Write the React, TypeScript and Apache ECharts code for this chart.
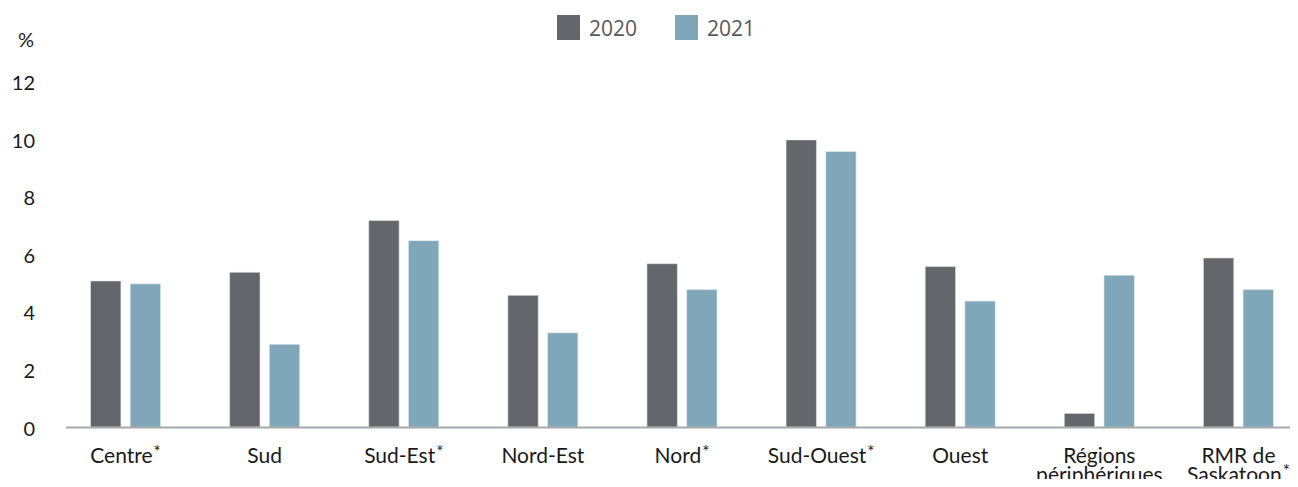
import React, { useEffect, useRef } from "react";
import * as echarts from "echarts";

const categories = [
  "Centre*",
  "Sud",
  "Sud-Est*",
  "Nord-Est",
  "Nord*",
  "Sud-Ouest*",
  "Ouest",
  "Régions\npériphériques",
  "RMR de\nSaskatoon*",
];
const values2020 = [5.1, 5.4, 7.2, 4.6, 5.7, 10.0, 5.6, 0.5, 5.9];
const values2021 = [5.0, 2.9, 6.5, 3.3, 4.8, 9.6, 4.4, 5.3, 4.8];
const yTicks = { min: 0, max: 12, interval: 2 };

export default function App() {
  const ref = useRef<HTMLDivElement>(null);
  useEffect(() => {
    if (!ref.current) return;
    const chart = echarts.init(ref.current, null, { renderer: "svg" });
    const axisFont = "Lato, 'Open Sans', sans-serif";
    chart.setOption({
      animation: false,
      backgroundColor: "#ffffff",
      legend: {
        left: 557,
        top: 15,
        padding: 0,
        itemWidth: 23,
        itemHeight: 25,
        itemGap: 38,
        icon: "rect",
        itemStyle: { borderWidth: 0 },
        textStyle: {
          fontFamily: "'Open Sans', sans-serif",
          fontSize: 21,
          color: "#595959",
          padding: [0, 0, 0, 4],
        },
        data: ["2020", "2021"],
      },
      grid: {
        left: 56,
        width: 1252,
        top: 82,
        bottom: 59.5,
        containLabel: false,
        outerBoundsMode: "none",
      },
      xAxis: {
        type: "category",
        data: categories,
        axisLine: { show: false },
        axisTick: { show: false },
        axisLabel: {
          interval: 0,
          margin: 17,
          fontFamily: axisFont,
          fontSize: 21,
          color: "#1a1a1a",
          lineHeight: 19,
          formatter: (v: string) =>
            v.endsWith("*") ? v.slice(0, -1) + "{s|*}" : v,
          rich: {
            s: {
              fontFamily: axisFont,
              fontSize: 17,
              color: "#1a1a1a",
              lineHeight: 19,
              padding: [0, 0, 5, 1],
            },
          },
        },
      },
      yAxis: {
        type: "value",
        min: yTicks.min,
        max: yTicks.max,
        interval: yTicks.interval,
        name: "%",
        nameLocation: "end",
        nameGap: 33,
        nameTextStyle: {
          fontFamily: axisFont,
          fontSize: 20,
          color: "#1a1a1a",
          align: "right",
          padding: [0, 22, 0, 0],
        },
        axisLine: { show: false },
        axisTick: { show: false },
        splitLine: { show: false },
        axisLabel: {
          margin: 21,
          fontFamily: axisFont,
          fontSize: 20,
          color: "#1a1a1a",
        },
      },
      graphic: [
        {
          type: "line",
          shape: { x1: 66, y1: 427.5, x2: 1298, y2: 427.5 },
          style: { stroke: "#a6a8ab", lineWidth: 2 },
          z: 10,
        },
      ],
      series: [
        {
          name: "2020",
          type: "bar",
          data: values2020,
          barWidth: 31,
          barGap: "28%",
          itemStyle: { color: "#63666a", borderColor: "#e6e7e8", borderWidth: 0.6 },
        },
        {
          name: "2021",
          type: "bar",
          data: values2021,
          barWidth: 31,
          itemStyle: { color: "#7fa7b9", borderColor: "#e6eef2", borderWidth: 0.6 },
        },
      ],
    });
    return () => chart.dispose();
  }, []);
  return <div ref={ref} style={{ width: 1298, height: 487, margin: -8 }} />;
}
